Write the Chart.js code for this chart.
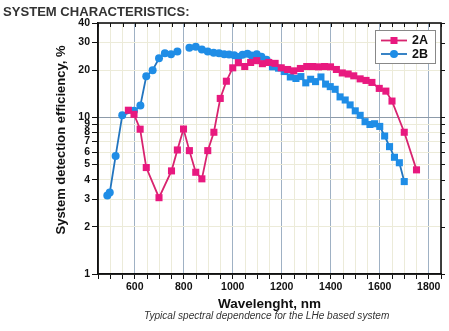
<!DOCTYPE html>
<html><head><meta charset="utf-8">
<script src="https://cdn.jsdelivr.net/npm/chart.js@4.4.0/dist/chart.umd.min.js"></script>
<style>
html,body{margin:0;padding:0;background:#fff;}
#wrap{position:relative;width:449px;height:331px;overflow:hidden;background:#fff;}
#c{position:absolute;left:0;top:0;}
#title{position:absolute;left:3px;top:4px;font:bold 13px "Liberation Sans",Arial,sans-serif;color:#333;white-space:nowrap;transform-origin:0 0;line-height:normal;}
#caption{position:absolute;top:310px;left:0;font:italic 10px "Liberation Sans",Arial,sans-serif;color:#333;white-space:nowrap;transform-origin:0 0;line-height:normal;}
</style></head>
<body><div id="wrap">
<canvas id="c" width="449" height="331"></canvas>
<div id="title">SYSTEM CHARACTERISTICS:</div>
<div id="caption">Typical spectral dependence for the LHe based system</div>
</div>
<script>
const seriesNames = ['2A', '2B'];
const wavelengthsA = [574,597,622,647,699,750,774,799,823,849,874,898,923,949,974,1000,1023,1049,1073,1098,1121,1147,1173,1198,1224,1249,1276,1302,1326,1350,1375,1399,1423,1447,1471,1494,1520,1544,1568,1598,1625,1650,1700,1750];
const valuesA = [11.1,10.45,8.4,4.78,3.07,4.55,6.19,8.42,6.13,4.46,4.05,6.13,8.03,13.2,17.0,20.7,22.3,21.1,22.4,23.0,22.0,22.4,22.1,20.7,20.2,19.8,20.5,21.1,21.1,21.0,21.1,21.0,20.2,19.2,18.9,18.4,17.6,17.2,16.7,15.3,14.7,12.7,8.03,4.62];
const wavelengthsB = [488,498,522,549,597,623,647,673,699,723,748,774,800,823,849,874,898,922,944,965,985,1006,1023,1040,1060,1077,1098,1117,1138,1162,1187,1210,1235,1258,1278,1298,1318,1338,1360,1379,1398,1418,1438,1459,1479,1500,1520,1540,1560,1579,1600,1620,1640,1660,1680,1700];
const valuesB = [3.17,3.31,5.67,10.3,11.0,11.9,18.3,20.0,23.8,25.6,25.3,26.3,null,27.8,28.2,27.1,26.3,25.8,25.6,25.3,25.2,24.9,24.3,25.1,25.5,24.8,25.3,24.4,23.3,21.0,20.6,19.6,18.1,17.7,18.2,16.6,17.5,16.9,18.1,16.3,15.7,15.1,13.5,12.9,12.0,11.0,10.3,9.38,9.0,9.1,8.75,7.6,6.5,5.56,5.13,3.89];
const yTickValues = [1,2,3,4,5,6,7,8,9,10,20,30,40];
const xTickLabels = [600,800,1000,1200,1400,1600,1800];
const xMinorTicks = [];
for (let v = 450; v <= 1850; v += 50) xMinorTicks.push(v);

// fit title and caption widths
(function(){
  const t = document.getElementById('title');
  t.style.transform = 'scaleX(' + (187 / t.offsetWidth) + ')';
  const c = document.getElementById('caption');
  const k = 245 / c.offsetWidth;
  c.style.transform = 'scaleX(' + k + ')';
  c.style.left = (266 - 245 / 2) + 'px';
})();

const PINK = '#e8197f', PINK_LINE = '#d8246f';
const BLUE = '#1f8de6', BLUE_LINE = '#2275bf';

const decor = {
  id: 'decor',
  afterDraw(chart) {
    const {ctx, chartArea: a, scales: {x, y}} = chart;
    ctx.save();
    ctx.strokeStyle = '#111';
    ctx.lineWidth = 1;
    x.ticks.forEach(t => {
      const px = Math.round(x.getPixelForValue(t.value)) + 0.5;
      ctx.beginPath(); ctx.moveTo(px, a.top); ctx.lineTo(px, a.top + 4); ctx.stroke();
    });
    y.ticks.forEach(t => {
      const py = Math.round(y.getPixelForValue(t.value)) + 0.5;
      ctx.beginPath(); ctx.moveTo(a.right, py); ctx.lineTo(a.right + 4, py); ctx.stroke();
    });
    ctx.lineWidth = 1.6;
    ctx.strokeRect(a.left, a.top, a.right - a.left, a.bottom - a.top);

    // legend
    const lx = 375, ly = 30, lw = 60, lh = 33;
    ctx.fillStyle = '#fff';
    ctx.fillRect(lx, ly, lw, lh);
    ctx.strokeStyle = '#888';
    ctx.lineWidth = 1;
    ctx.strokeRect(lx + 0.5, ly + 0.5, lw, lh);
    chart.data.datasets.forEach((ds, i) => {
      const yy = ly + 10.5 + i * 13.5;
      ctx.strokeStyle = ds.borderColor;
      ctx.lineWidth = 1.8;
      ctx.beginPath(); ctx.moveTo(381, yy); ctx.lineTo(407, yy); ctx.stroke();
      ctx.fillStyle = ds.pointBackgroundColor;
      if (i === 0) { ctx.fillRect(390.5, yy - 3.5, 7, 7); }
      else { ctx.beginPath(); ctx.arc(394, yy, 4, 0, Math.PI * 2); ctx.fill(); }
      ctx.fillStyle = '#111';
      ctx.font = 'bold 12.5px "Liberation Sans", Arial, sans-serif';
      ctx.textAlign = 'left'; ctx.textBaseline = 'middle';
      ctx.fillText(ds.label, 412, yy + 0.5);
    });

    // y title
    ctx.translate(61.5, 140);
    ctx.rotate(-Math.PI / 2);
    ctx.font = 'bold 13px "Liberation Sans", Arial, sans-serif';
    ctx.textAlign = 'center'; ctx.textBaseline = 'middle';
    ctx.fillStyle = '#111';
    ctx.fillText('System detection efficiency, %', 0, 0);
    ctx.restore();
  }
};

Chart.defaults.font.family = '"Liberation Sans", Arial, sans-serif';
Chart.defaults.color = '#111';

new Chart(document.getElementById('c'), {
  type: 'line',
  data: {
    datasets: [
      {
        label: seriesNames[0],
        data: wavelengthsA.map((w, i) => ({x: w, y: valuesA[i]})),
        borderColor: PINK_LINE,
        backgroundColor: PINK,
        pointBackgroundColor: PINK,
        pointBorderColor: PINK,
        pointStyle: 'rect',
        pointRadius: 5,
        pointBorderWidth: 0,
        borderWidth: 1.8,
        tension: 0
      },
      {
        label: seriesNames[1],
        data: wavelengthsB.map((w, i) => ({x: w, y: valuesB[i]})),
        borderColor: BLUE_LINE,
        backgroundColor: BLUE,
        pointBackgroundColor: BLUE,
        pointBorderColor: BLUE,
        pointStyle: ctx => (ctx.raw && ctx.raw.x > 1150) ? 'rect' : 'circle',
        pointRadius: ctx => (ctx.raw && ctx.raw.x > 1150) ? 5 : 4,
        pointBorderWidth: 0,
        borderWidth: 1.8,
        spanGaps: false,
        tension: 0
      }
    ]
  },
  options: {
    responsive: false,
    animation: false,
    events: [],
    layout: {padding: {left: 0, top: 23, right: 8, bottom: 17}},
    plugins: {legend: {display: false}, tooltip: {enabled: false}, title: {display: false}},
    scales: {
      x: {
        type: 'linear',
        min: 450, max: 1850,
        afterBuildTicks: s => { s.ticks = xMinorTicks.map(v => ({value: v})); },
        afterFit: s => { s.height = 40; },
        ticks: {
          autoSkip: false, maxRotation: 0, padding: 2,
          font: {size: 10.5, weight: 'bold'},
          callback: v => xTickLabels.includes(v) ? String(v) : ''
        },
        grid: {
          color: c => (c.tick && xTickLabels.includes(c.tick.value)) ? '#9fb1c4' : '#ecebd9',
          tickColor: '#111',
          tickLength: 5,
          lineWidth: 1
        },
        border: {color: '#111', width: 1.5},
        title: {
          display: true,
          text: 'Wavelenght, nm',
          font: {size: 13.5, weight: 'bold'},
          padding: {top: 0, bottom: 2}
        }
      },
      y: {
        type: 'logarithmic',
        min: 1, max: 40,
        afterBuildTicks: s => { s.ticks = yTickValues.map(v => ({value: v})); },
        afterFit: s => { s.width = 98; },
        ticks: {
          autoSkip: false, padding: 2,
          font: {size: 10.5, weight: 'bold'},
          callback: v => yTickValues.includes(v) ? String(v) : ''
        },
        grid: {
          color: c => (c.tick && c.tick.value === 10) ? '#8d9baa' : '#ecebd9',
          tickColor: '#111',
          tickLength: 6,
          lineWidth: 1
        },
        border: {color: '#111', width: 1.5}
      }
    }
  },
  plugins: [decor]
});
</script>
</body></html>
